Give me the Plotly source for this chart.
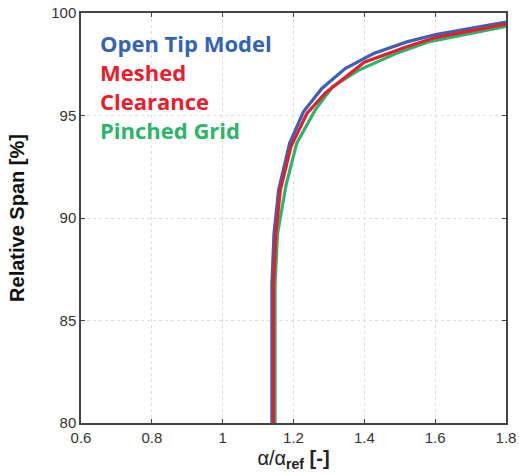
import plotly.graph_objects as go

span_blue = [80, 86.8, 89.25, 91.37, 93.64, 95.18, 96.32, 97.29, 98.02, 98.59, 98.96, 99.56]
x_blue = [1.139, 1.139, 1.145, 1.158, 1.189, 1.228, 1.280, 1.346, 1.426, 1.520, 1.605, 1.800]

span_red = [80, 86.8, 89.25, 91.37, 93.5, 95.1, 96.1, 97.0, 97.6, 98.35, 98.8, 99.46]
x_red = [1.1435, 1.1435, 1.150, 1.163, 1.193, 1.238, 1.290, 1.355, 1.400, 1.520, 1.600, 1.800]

span_green = [80, 86.8, 89.25, 91.6, 93.64, 95.26, 96.4, 97.2, 98.0, 98.59, 99.35]
x_green = [1.148, 1.148, 1.155, 1.179, 1.209, 1.261, 1.310, 1.383, 1.486, 1.580, 1.800]

labels = ["Open Tip Model", "Meshed", "Clearance", "Pinched Grid"]
label_colors = ["#3563B3", "#E8202E", "#E8202E", "#2BB56B"]

fig = go.Figure()
fig.add_trace(go.Scatter(x=x_green, y=span_green, mode="lines",
                         line=dict(color="#2BB56B", width=3.2), showlegend=False))
fig.add_trace(go.Scatter(x=x_blue, y=span_blue, mode="lines",
                         line=dict(color="#3A62B3", width=3.2), showlegend=False))
fig.add_trace(go.Scatter(x=x_red, y=span_red, mode="lines",
                         line=dict(color="#E51E2D", width=3.2), showlegend=False))

ys = [43, 72, 101, 130]
for t, c, yp in zip(labels, label_colors, ys):
    fig.add_annotation(text="<b>%s</b>" % t, xref="paper", yref="paper",
                       x=(98 - 81) / (519 - 81 - 13), y=1 - (yp - 13) / (474 - 13 - 51),
                       xanchor="left", yanchor="middle", showarrow=False,
                       font=dict(family="Open Sans", size=22, color=c))

axis_common = dict(showline=True, linecolor="#444", linewidth=1.5, mirror="ticks",
                   ticks="inside", ticklen=4, tickcolor="#444",
                   showgrid=True, gridcolor="#dcdcdc", griddash="dot", gridwidth=1,
                   zeroline=False, automargin=False,
                   tickfont=dict(family="Liberation Sans", size=15, color="#333"))

fig.update_xaxes(range=[0.6, 1.8], tickvals=[0.6, 0.8, 1, 1.2, 1.4, 1.6, 1.8],
                 ticktext=["0.6", "0.8", "1", "1.2", "1.4", "1.6", "1.8"],
                 title=dict(text="α/α<sub><b>ref</b></sub> <b>[-]</b>",
                            font=dict(family="Liberation Sans", size=20, color="#222"),
                            standoff=6),
                 **axis_common)
fig.update_yaxes(range=[80, 100], tickvals=[80, 85, 90, 95, 100],
                 title=dict(text="<b>Relative Span [%]</b>",
                            font=dict(family="Liberation Sans", size=20, color="#111"),
                            standoff=21),
                 **axis_common)

fig.update_layout(width=519, height=474, margin=dict(l=81, r=13, t=13, b=51),
                  plot_bgcolor="white", paper_bgcolor="white")

fig.write_html("out.html")
